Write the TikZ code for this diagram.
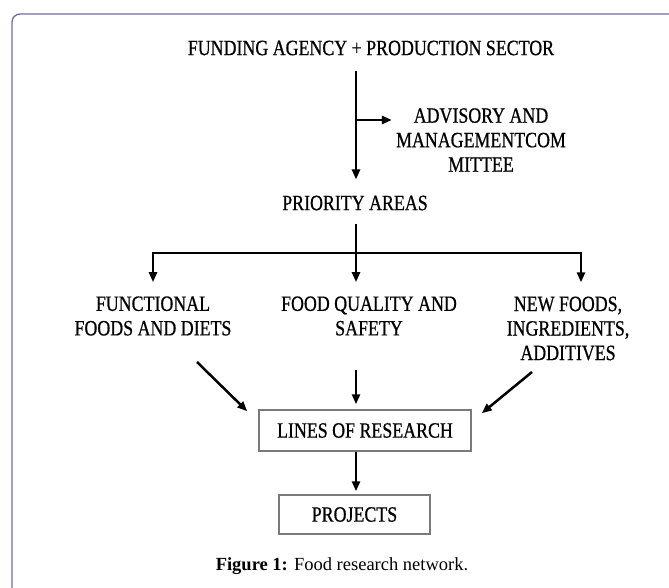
\documentclass[tikz,border=0pt]{standalone}
\usepackage{fontspec}
\setmainfont{Liberation Serif}
\newfontfamily\narrowfont{Liberation Serif}[FakeStretch=0.82, FakeBold=0.7]
\usetikzlibrary{arrows.meta}

\definecolor{framecol}{HTML}{7068AE}
\definecolor{boxgray}{HTML}{7A7A7A}

\newcommand{\diagfont}{\narrowfont\fontsize{21.8}{24.5}\selectfont}
\newcommand{\capfont}{\fontsize{18.5}{22}\selectfont}

\begin{document}
\begin{tikzpicture}[x=1pt,y=-1pt]
    \useasboundingbox (0,0) rectangle (669,588);
    \draw[framecol, line width=1.3pt, rounded corners=8pt] (690,14) -- (12,14) -- (12,610);
    \begin{scope}[txt/.style={inner sep=0pt, align=center, font=\diagfont},
                  all/.style={draw=boxgray, line width=1.5pt, fill=white, inner sep=0pt, font=\diagfont},
                  >={Triangle[length=10pt,width=8pt]}, line width=2.5pt]
        \node[txt] (t0) at (371, 48) {FUNDING AGENCY + PRODUCTION SECTOR};
        \node[txt] (t1) at (481, 140) {ADVISORY AND\\MANAGEMENTCOM\\MITTEE};
        \node[txt] (t2) at (355, 203) {PRIORITY AREAS};
        \node[txt] (t3) at (153, 316) {FUNCTIONAL\\FOODS AND DIETS};
        \node[txt] (t4) at (369, 316) {FOOD QUALITY AND\\SAFETY};
        \node[txt] (t5) at (568, 328.5) {NEW FOODS,\\INGREDIENTS,\\ADDITIVES};
        \node[all, minimum width=212pt, minimum height=41pt] (b1) at (365, 430.5) {LINES OF RESEARCH};
        \node[all, minimum width=151pt, minimum height=39pt] (b2) at (354.5, 514.5) {PROJECTS};
        \node[inner sep=0pt, font=\capfont] (cap) at (342, 566) {\textbf{Figure 1:} Food research network.};
        % junctions on the main line and the bar
        \coordinate (c1) at (356, 120);
        \coordinate (c2) at (356, 253);
        \coordinate (c4) at (581, 253);
        \coordinate (d1) at (197, 362);
        \coordinate (d2) at (356, 370);
        \coordinate (d3) at (532, 372);
        \draw[->, shorten <=14pt, shorten >=15pt] (c2 |- t0.south) -- (c2 |- t2.north);
        \draw[->, shorten >=3pt] (c1) -- (c1 -| t1.west);
        \draw[->, shorten <=12pt, shorten >=13pt] (c2 |- t2.south) -- (c2 |- t4.north);
        \draw[->, shorten >=13pt] (c2) -| (t3.north);
        \draw[->, shorten >=13pt] (c2) -- (c4) -- (c4 |- t5.north);
        \draw[->] (d1) -- ([shift={(-11,2)}]b1.north west);
        \draw[->, shorten >=5pt] (d2) -- (d2 |- b1.north);
        \draw[->] (d3) -- ([shift={(10,4)}]b1.north east);
        \draw[->, shorten >=3pt] (c2 |- b1.south) -- (c2 |- b2.north);
    \end{scope}
\end{tikzpicture}
\end{document}
